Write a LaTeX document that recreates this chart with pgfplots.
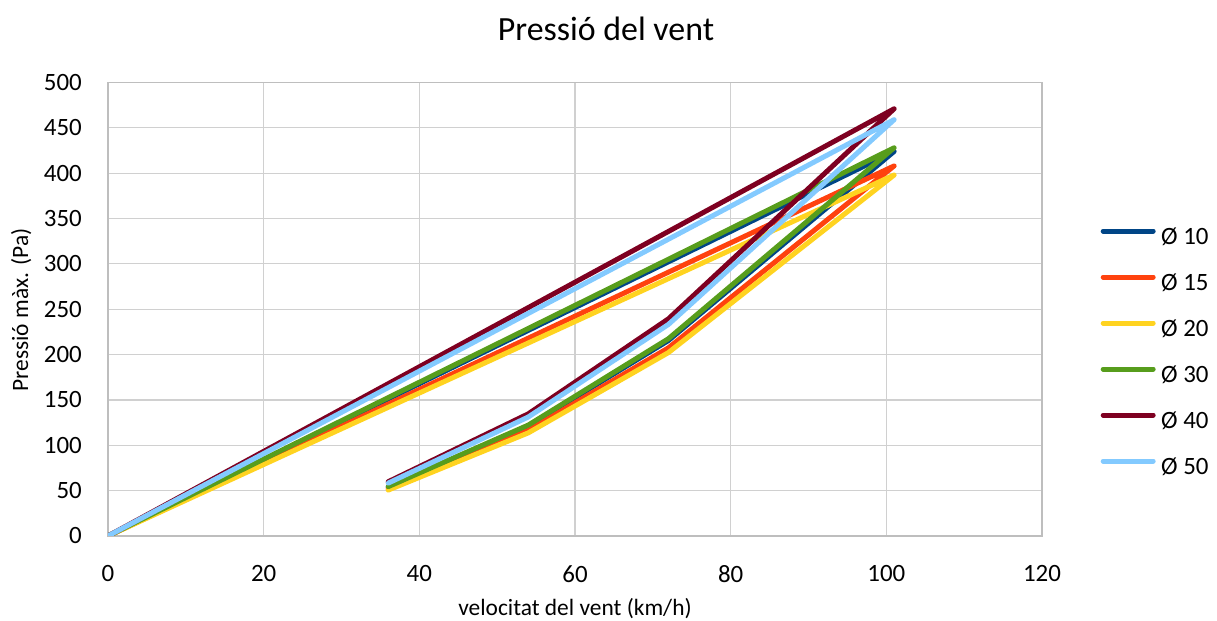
\documentclass[border=0pt]{standalone}
\usepackage{pgfplots}
\pgfplotsset{compat=1.18}
\usepackage{fontspec}
\setmainfont{Carlito}
\definecolor{c10}{RGB}{0,69,134}
\definecolor{c15}{RGB}{255,66,14}
\definecolor{c20}{RGB}{255,211,32}
\definecolor{c30}{RGB}{87,157,28}
\definecolor{c40}{RGB}{126,0,33}
\definecolor{c50}{RGB}{131,202,255}
\definecolor{gridc}{RGB}{208,208,208}
\definecolor{borderc}{RGB}{190,190,190}
\begin{document}
\begin{tikzpicture}[x=1bp,y=1bp]
\useasboundingbox (0,0) rectangle (1217,621);
\begin{axis}[
  scale only axis,
  width=934bp, height=453.5bp,
  at={(108bp,85bp)}, anchor=south west,
  xmin=0, xmax=120, ymin=0, ymax=500,
  xtick distance=20, ytick distance=50,
  major tick length=0pt,
  grid=major,
  grid style={gridc, line width=1.2bp},
  axis line style={borderc, line width=1.6bp},
  /pgf/number format/assume math mode=true,
  tick label style={font=\fontsize{25}{30}\selectfont, black},
  xticklabel style={anchor=north, inner sep=0pt, yshift=-29bp},
  yticklabel style={anchor=east, inner sep=0pt, xshift=-26bp},
  every axis plot/.append style={line width=5bp, line join=round, line cap=round},
  legend style={at={(1.0626,0.4035)}, anchor=west, draw=none, fill=none,
    inner sep=0pt, row sep=24bp, font=\fontsize{25}{30}\selectfont,
    nodes={inner xsep=5.5bp, inner ysep=0pt, text height=17bp, text depth=5bp}},
  legend cell align=left,
  legend image code/.code={\draw[#1, line width=5bp, line cap=round] (0bp,7bp) -- (50bp,7bp);},
]
\addplot[c10] coordinates {(36,53.9) (54,121.2) (72,215.5) (101,424) (0,0)};
\addlegendentry{Ø 10}
\addplot[c15] coordinates {(36,51.8) (54,116.6) (72,207.4) (101,408) (0,0)};
\addlegendentry{Ø 15}
\addplot[c20] coordinates {(36,50.6) (54,113.7) (72,202.2) (101,398) (0,0)};
\addlegendentry{Ø 20}
\addplot[c30] coordinates {(36,54.4) (54,122.3) (72,217.5) (101,428) (0,0)};
\addlegendentry{Ø 30}
\addplot[c40] coordinates {(36,59.8) (54,134.7) (72,239.4) (101,471) (0,0)};
\addlegendentry{Ø 40}
\addplot[c50] coordinates {(36,58.3) (54,131.2) (72,233.2) (101,459) (0,0)};
\addlegendentry{Ø 50}
\end{axis}
\node[anchor=base, inner sep=0pt, font=\fontsize{34}{40}\selectfont] at (606,580.3) {Pressió del vent};
\node[anchor=base, inner sep=0pt, font=\fontsize{23.5}{28}\selectfont] at (575,5.5) {velocitat del vent (km/h)};
\node[anchor=base, rotate=90, inner sep=0pt, font=\fontsize{23.5}{28}\selectfont] at (28,311) {Pressió màx. (Pa)};
\end{tikzpicture}
\end{document}
